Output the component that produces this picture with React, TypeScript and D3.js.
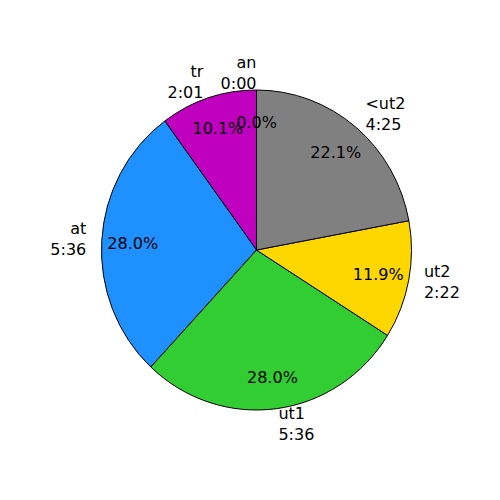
import React from "react";
import * as d3 from "d3";

const categories = ["an", "tr", "at", "ut1", "ut2", "<ut2"];
const seconds = [0, 121, 336, 336, 142.8, 265];
const colors = ["#d62728", "#BF00BF", "#1E90FF", "#32CD32", "#FFD700", "#808080"];

const W = 500;
const H = 500;
const cx = 256.5;
const cy = 250;
const rx = 155;
const ry = 160;
const FS = 16;
const LINE = 21;

function fmtTime(s: number) {
  const m = Math.floor(s / 60);
  const sec = Math.floor(s % 60);
  return `${m}:${String(sec).padStart(2, "0")}`;
}

export default function App() {
  const data = categories.map((c, i) => ({ cat: c, v: seconds[i], color: colors[i] }));
  const total = d3.sum(seconds);
  const pie = d3
    .pie<any>()
    .sort(null)
    .value((d: any) => d.v)
    .startAngle(0)
    .endAngle(-2 * Math.PI);
  const arcs = pie(data);
  const arc = d3.arc<any>().innerRadius(0).outerRadius(rx);
  const pctFmt = d3.format(".1f");

  return (
    <svg
      width={W}
      height={H}
      style={{ position: "absolute", left: 0, top: 0, background: "#fff" }}
      fontFamily="DejaVu Sans"
      fontSize={FS}
    >
      <g transform={`translate(${cx},${cy}) scale(1,${ry / rx})`}>
        {arcs.map((a, i) => (
          <path
            key={i}
            d={arc(a) || ""}
            fill={a.data.color}
            stroke="#000"
            strokeWidth={1}
            strokeLinejoin="round"
            vectorEffect="non-scaling-stroke"
          />
        ))}
      </g>
      {arcs.map((a, i) => {
        const m = (a.startAngle + a.endAngle) / 2;
        const lx = cx + Math.sin(m) * rx * 1.1;
        const ly = cy - Math.cos(m) * ry * 1.1;
        const anchor = Math.sin(m) > 1e-9 ? "start" : "end";
        const px = cx + Math.sin(m) * rx * 0.8;
        const py = cy - Math.cos(m) * ry * 0.8;
        const pct = (a.data.v / total) * 100;
        return (
          <g key={i}>
            <text x={lx} y={ly - 6} textAnchor={anchor}>
              <tspan x={lx} y={ly - 6}>{a.data.cat}</tspan>
              <tspan x={lx} y={ly - 6 + LINE}>{fmtTime(a.data.v)}</tspan>
            </text>
            <text x={px} y={py + 6} textAnchor="middle">
              {pctFmt(pct)}%
            </text>
          </g>
        );
      })}
    </svg>
  );
}
